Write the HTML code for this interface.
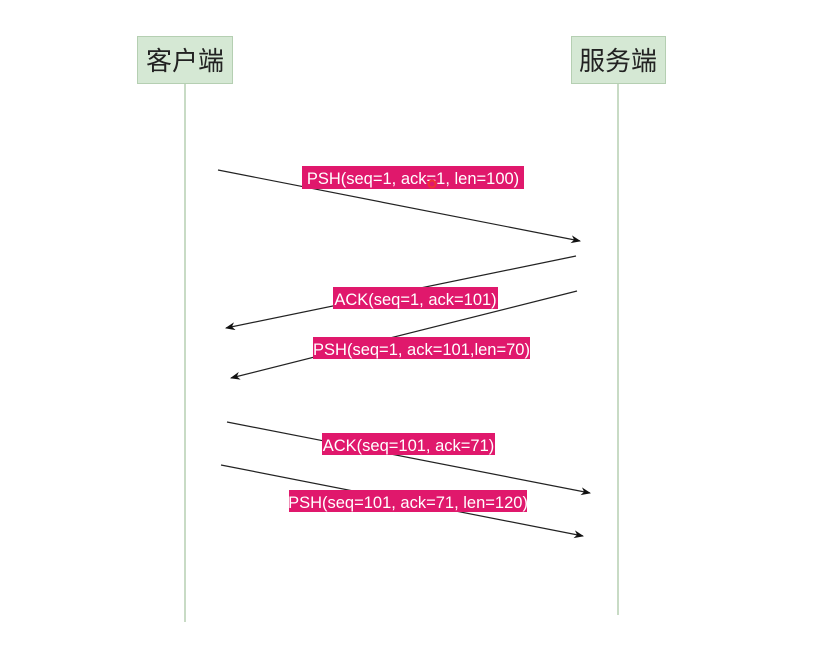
<!DOCTYPE html>
<html><head><meta charset="utf-8"><style>
html,body{margin:0;padding:0;background:#fff;}
svg{display:block;}
text{font-family:"Liberation Sans",Arial,sans-serif;}
.cjk{font-family:"Liberation Sans","Noto Sans CJK SC",sans-serif;}
</style></head><body>
<svg width="828" height="668" viewBox="0 0 828 668" xmlns="http://www.w3.org/2000/svg">
<defs>
<marker id="a" markerWidth="10" markerHeight="8" refX="9" refY="4" orient="auto" markerUnits="userSpaceOnUse">
<path d="M0,0 L10,4 L0,8 L3,4 Z" fill="#111"/>
</marker>
</defs>
<rect x="137.5" y="36.5" width="95" height="47" fill="#d5e8d4" stroke="#b5cfb2"/>
<text class="cjk" x="185" y="70" font-size="26" text-anchor="middle" fill="#222">客户端</text>
<rect x="571.5" y="36.5" width="94" height="47" fill="#d5e8d4" stroke="#b5cfb2"/>
<text class="cjk" x="618" y="70" font-size="26" text-anchor="middle" fill="#222">服务端</text>
<line x1="185" y1="84" x2="185" y2="622" stroke="#b5cfb2" stroke-width="1.5"/>
<line x1="618" y1="84" x2="618" y2="615" stroke="#b5cfb2" stroke-width="1.5"/>
<g stroke="#222" stroke-width="1.2" marker-end="url(#a)">
<line x1="218" y1="170" x2="580" y2="241"/>
<line x1="576" y1="256" x2="226" y2="328"/>
<line x1="577" y1="291" x2="231" y2="378"/>
<line x1="227" y1="422" x2="590" y2="493"/>
<line x1="221" y1="465" x2="583" y2="536"/>
</g>
<g fill="#e0186c">
<rect x="302" y="166" width="222" height="23"/>
<rect x="333" y="287" width="165" height="22"/>
<rect x="313" y="337" width="217" height="22"/>
<rect x="322" y="433" width="173" height="22"/>
<rect x="289" y="490" width="238" height="22"/>
</g>
<g fill="#fff" font-size="16.5" text-anchor="middle">
<text x="413" y="184">PSH(seq=1,  ack=1, len=100)</text>
<text x="415.5" y="305">ACK(seq=1, ack=101)</text>
<text x="421.5" y="355">PSH(seq=1, ack=101,len=70)</text>
<text x="408.5" y="451">ACK(seq=101, ack=71)</text>
<text x="408" y="508">PSH(seq=101, ack=71, len=120)</text>
</g>
<circle cx="432" cy="184" r="3.5" fill="none" stroke="#e33" stroke-width="2"/>
</svg>
</body></html>
